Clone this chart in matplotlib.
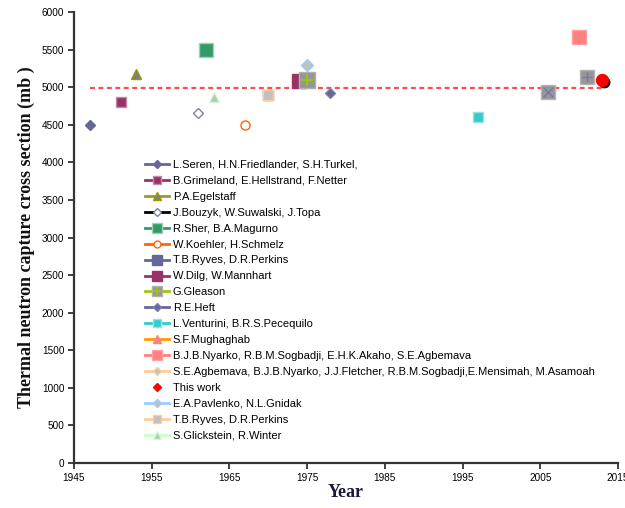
import matplotlib
matplotlib.use("Agg")
import matplotlib.pyplot as plt
from matplotlib.lines import Line2D
from matplotlib.legend_handler import HandlerTuple
import matplotlib.patheffects as pe

# ---- data -------------------------------------------------------------
labels = [
    "L.Seren, H.N.Friedlander, S.H.Turkel,",
    "B.Grimeland, E.Hellstrand, F.Netter",
    "P.A.Egelstaff",
    "J.Bouzyk, W.Suwalski, J.Topa",
    "R.Sher, B.A.Magurno",
    "W.Koehler, H.Schmelz",
    "T.B.Ryves, D.R.Perkins",
    "W.Dilg, W.Mannhart",
    "G.Gleason",
    "R.E.Heft",
    "L.Venturini, B.R.S.Pecequilo",
    "S.F.Mughaghab",
    "B.J.B.Nyarko, R.B.M.Sogbadji, E.H.K.Akaho, S.E.Agbemava",
    "S.E.Agbemava, B.J.B.Nyarko, J.J.Fletcher, R.B.M.Sogbadji,E.Mensimah, M.Asamoah",
    "This work",
    "E.A.Pavlenko, N.L.Gnidak",
    "T.B.Ryves, D.R.Perkins",
    "S.Glickstein, R.Winter",
]
years = [1947, 1951, 1953, 1961, 1962, 1967, 1970, 1974, 1975, 1978,
         1997, 2006, 2010, 2011, 2013, 1975, 1970, 1963]
cross_section = [4500, 4800, 5170, 4660, 5500, 4500, 4900, 5080, 5100, 4920,
                 4600, 4935, 5670, 5140, 5090, 5300, 4900, 4870]

mean_years = [1947, 2013]
mean_value = 4985

x_ticks = list(range(1945, 2016, 10))
y_ticks = list(range(0, 6001, 500))

# ---- styles: (line colour, marker, marker size, face, edge, legend size) --
styles = [
    ("#666699", "D", 4.7, "#666699", "#666699", 4.0),
    ("#993366", "s", 7.0, "#993366", "#c08aa4", 5.5),
    ("#999933", "^", 7.7, "#808080", "#999900", 6.0),
    ("#000000", "D", 5.2, "white", "#7f7fb0", 4.5),
    ("#339966", "s", 9.5, "#339966", "#a0d0b4", 7.5),
    ("#ff6600", "o", 6.5, "white", "#ff6600", 5.0),
    ("#666699", "s", 6.5, "#666699", "#666699", 7.5),
    ("#993366", "s", 9.5, "#993366", "#993366", 7.5),
    ("#99cc00", "s", 11.5, "#969696", "#b0b0b0", 7.5),
    ("#666699", "D", 5.4, "#666699", "#8080b0", 4.0),
    ("#33cccc", "s", 7.0, "#33cccc", "#99e0e0", 5.5),
    ("#ff9900", "^", 7.5, "#ff8080", "#ff8080", 6.0),
    ("#ff8080", "s", 9.5, "#ff8080", "#ffa0a0", 7.5),
    ("#ffcc99", "D", 4.7, "#c0c0c0", "#ffcc99", 4.0),
    (None, "o", 8.5, "#ff0000", "#ff0000", 4.5),
    ("#99ccff", "D", 5.8, "#c0c0c0", "#99ccff", 4.5),
    ("#ffcc99", "s", 6.5, "#c0c0c0", "#ffcc99", 5.5),
    ("#ccffcc", "^", 7.5, "#c0c0c0", "#ccffcc", 5.5),
]

plt.rcParams["font.family"] = ["Liberation Sans", "DejaVu Sans"]

fig = plt.figure(figsize=(6.25, 5.08), dpi=100)
ax = fig.add_axes([74 / 625, 1 - 463 / 508, 544 / 625, 451 / 508])

# mean reference line
ax.plot(mean_years, [mean_value, mean_value], color="#ff4d4d", lw=1.6,
        dashes=(2.2, 1.6), zorder=2)

handles = []
for i, (lab, yr, val) in enumerate(zip(labels, years, cross_section)):
    lc, mk, ms, fc, ec, lms = styles[i]
    kw = dict(marker=mk, markersize=ms, markerfacecolor=fc,
              markeredgecolor=ec, markeredgewidth=1.0, zorder=3 + i * 0.01)
    if lc is None:
        ln, = ax.plot([yr], [val], linestyle="none", **kw)
        ln.set_path_effects([pe.SimplePatchShadow(offset=(1.5, -1.5),
                                                  shadow_rgbFace="black",
                                                  alpha=1.0),
                             pe.Normal()])
        handles.append(Line2D([], [], linestyle="none", marker="D",
                              markersize=lms, color="#ff0000"))
        continue
    ln, = ax.plot([yr], [val], color=lc, lw=2, **kw)
    if lab == "G.Gleason":
        ax.plot([yr], [val], linestyle="none", marker="+", markersize=9,
                markeredgewidth=1.3, color="#99cc00", zorder=3.2)
        handles.append((Line2D([], [], color=lc, lw=2, marker="s",
                               markersize=lms, markerfacecolor=fc,
                               markeredgecolor=ec),
                        Line2D([], [], linestyle="none", marker="+",
                               markersize=6, markeredgewidth=1.2,
                               color="#99cc00")))
        continue
    handles.append(Line2D([], [], color=lc, lw=2, marker=mk,
                          markersize=lms, markerfacecolor=fc,
                          markeredgecolor=ec))

# evaluated-library points drawn as grey boxes over their series markers
for lab, sym in (("S.F.Mughaghab", "x"),
                 ("S.E.Agbemava, B.J.B.Nyarko, J.J.Fletcher, R.B.M.Sogbadji,E.Mensimah, M.Asamoah", "+")):
    k = labels.index(lab)
    ax.plot([years[k]], [cross_section[k]], linestyle="none", marker="s",
            markersize=9.5, markerfacecolor="#969696",
            markeredgecolor="#b4b4b4", zorder=4)
    ax.plot([years[k]], [cross_section[k]], linestyle="none", marker=sym,
            markersize=7, markeredgewidth=1.0, color="#7777aa", zorder=4.1)

ax.set_xlim(1945, 2015)
ax.set_ylim(0, 6000)
ax.set_xticks(x_ticks)
ax.set_yticks(y_ticks)
ax.tick_params(labelsize=7.2, length=4, width=1.3, color="#333333",
               direction="out", pad=3)
for s in ("top", "right"):
    ax.spines[s].set_visible(False)
for s in ("left", "bottom"):
    ax.spines[s].set_linewidth(1.6)
    ax.spines[s].set_color("#333333")
for t in ax.get_xticklabels():
    t.set_clip_on(False)

ax.set_xlabel("Year", fontsize=13, fontweight="bold",
              family=["Liberation Serif"], color="#1a1a3a", labelpad=1)
ax.set_ylabel("Thermal neutron capture cross section (mb )", fontsize=13,
              fontweight="bold", family=["Liberation Serif"], color="#111111",
              labelpad=5)

ax.legend(handles, labels, loc="upper left",
          bbox_to_anchor=(137 / 625, 1 - 152 / 508),
          bbox_transform=fig.transFigure, frameon=False, fontsize=8,
          handlelength=2.2, handletextpad=0.33, labelspacing=0.535,
          borderpad=0.2, handler_map={tuple: HandlerTuple(ndivide=1)})

fig.savefig("out.png", dpi=100)
